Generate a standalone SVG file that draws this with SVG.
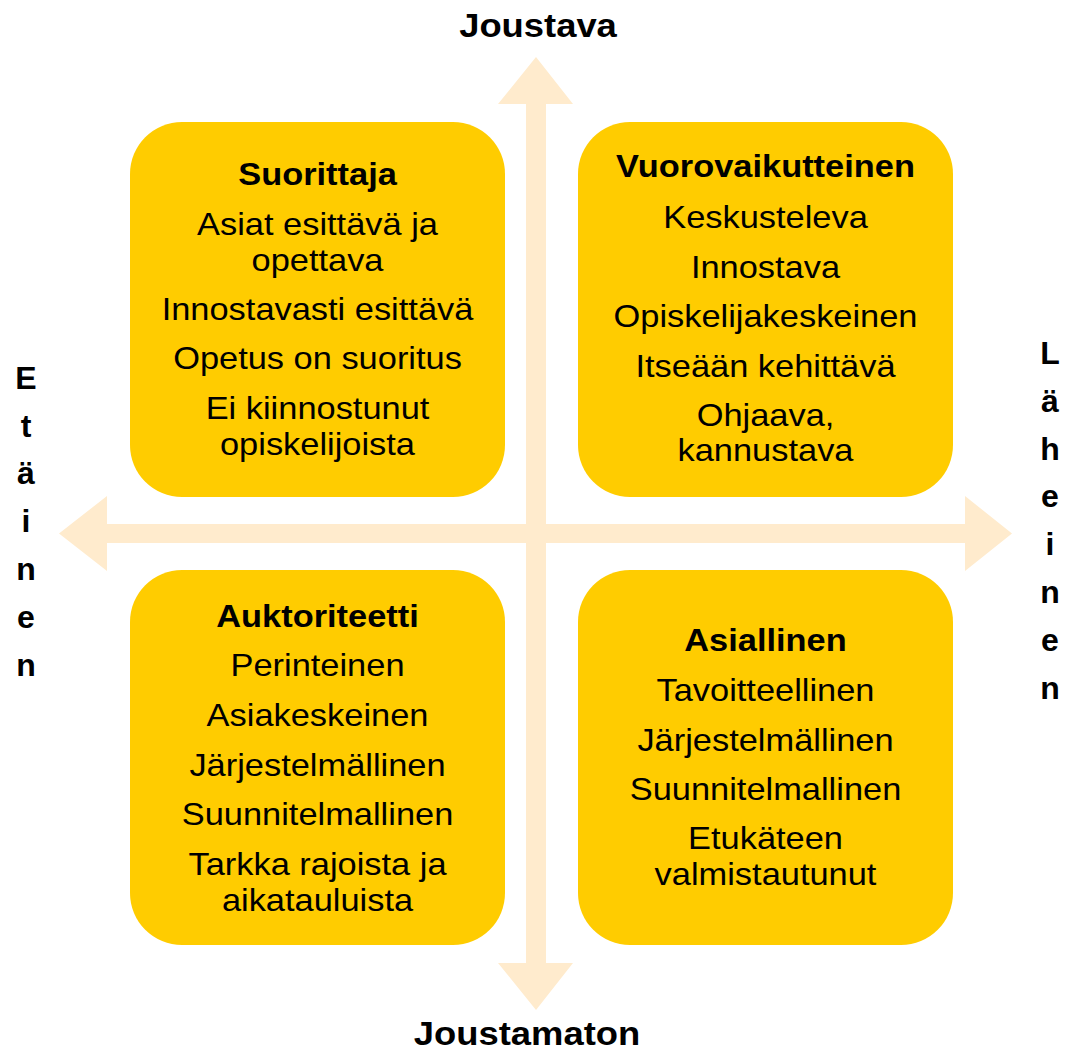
<svg xmlns="http://www.w3.org/2000/svg" width="1067" height="1052" viewBox="0 0 1067 1052">
<style>
.box{fill:#FFCC00}
.arr{fill:#FFEBCD}
text{font-family:"Liberation Sans",Arial,sans-serif;fill:#000;text-anchor:middle}
.t{font-size:32px}
.b{font-size:32px;font-weight:bold}
.ax{font-size:34px;font-weight:bold}
.v{font-size:32px;font-weight:bold}
</style>
<rect width="1067" height="1052" fill="#fff"/>
<g id="connectors">
<polygon class="arr" points="536,57 573,104 546,104 546,963 573,963 536,1010 498,963 526,963 526,104 498,104"/>
<polygon class="arr" points="59,533.5 107,496 107,524 965,524 965,496 1012,533.5 965,571 965,543 107,543 107,571"/>
</g>
<g id="suorittaja">
<rect class="box" x="130" y="122" width="375" height="375" rx="52"/>
<g transform="translate(317.5 0) scale(1.075 1)">
<text class="b" x="0" y="185">Suorittaja</text>
<text class="t" x="0" y="235">Asiat esittävä ja</text>
<text class="t" x="0" y="271">opettava</text>
<text class="t" x="0" y="320">Innostavasti esittävä</text>
<text class="t" x="0" y="369">Opetus on suoritus</text>
<text class="t" x="0" y="419">Ei kiinnostunut</text>
<text class="t" x="0" y="455">opiskelijoista</text>
</g>
</g>
<g id="vuorovaikutteinen">
<rect class="box" x="578" y="122" width="375" height="375" rx="52"/>
<g transform="translate(765.5 0) scale(1.075 1)">
<text class="b" x="0" y="177">Vuorovaikutteinen</text>
<text class="t" x="0" y="228">Keskusteleva</text>
<text class="t" x="0" y="278">Innostava</text>
<text class="t" x="0" y="327">Opiskelijakeskeinen</text>
<text class="t" x="0" y="377">Itseään kehittävä</text>
<text class="t" x="0" y="426">Ohjaava,</text>
<text class="t" x="0" y="461">kannustava</text>
</g>
</g>
<g id="auktoriteetti">
<rect class="box" x="130" y="570" width="375" height="375" rx="52"/>
<g transform="translate(317.5 0) scale(1.075 1)">
<text class="b" x="0" y="627">Auktoriteetti</text>
<text class="t" x="0" y="676">Perinteinen</text>
<text class="t" x="0" y="726">Asiakeskeinen</text>
<text class="t" x="0" y="776">Järjestelmällinen</text>
<text class="t" x="0" y="825">Suunnitelmallinen</text>
<text class="t" x="0" y="875">Tarkka rajoista ja</text>
<text class="t" x="0" y="911">aikatauluista</text>
</g>
</g>
<g id="asiallinen">
<rect class="box" x="578" y="570" width="375" height="375" rx="52"/>
<g transform="translate(765.5 0) scale(1.075 1)">
<text class="b" x="0" y="651">Asiallinen</text>
<text class="t" x="0" y="701">Tavoitteellinen</text>
<text class="t" x="0" y="751">Järjestelmällinen</text>
<text class="t" x="0" y="800">Suunnitelmallinen</text>
<text class="t" x="0" y="849">Etukäteen</text>
<text class="t" x="0" y="885">valmistautunut</text>
</g>
</g>
<g id="joustava" transform="translate(538 0) scale(1.07 1)">
<text class="ax" x="0" y="37">Joustava</text>
</g>
<g id="joustamaton" transform="translate(527 0) scale(1.07 1)">
<text class="ax" x="0" y="1045">Joustamaton</text>
</g>
<g id="etainen">
<text class="v" x="26" y="389">E</text>
<text class="v" x="26" y="437">t</text>
<text class="v" x="26" y="484">ä</text>
<text class="v" x="26" y="532">i</text>
<text class="v" x="26" y="580">n</text>
<text class="v" x="26" y="628">e</text>
<text class="v" x="26" y="676">n</text>
</g>
<g id="laheinen">
<text class="v" x="1050" y="364">L</text>
<text class="v" x="1050" y="412">ä</text>
<text class="v" x="1050" y="460">h</text>
<text class="v" x="1050" y="507">e</text>
<text class="v" x="1050" y="555">i</text>
<text class="v" x="1050" y="603">n</text>
<text class="v" x="1050" y="651">e</text>
<text class="v" x="1050" y="699">n</text>
</g>
</svg>
